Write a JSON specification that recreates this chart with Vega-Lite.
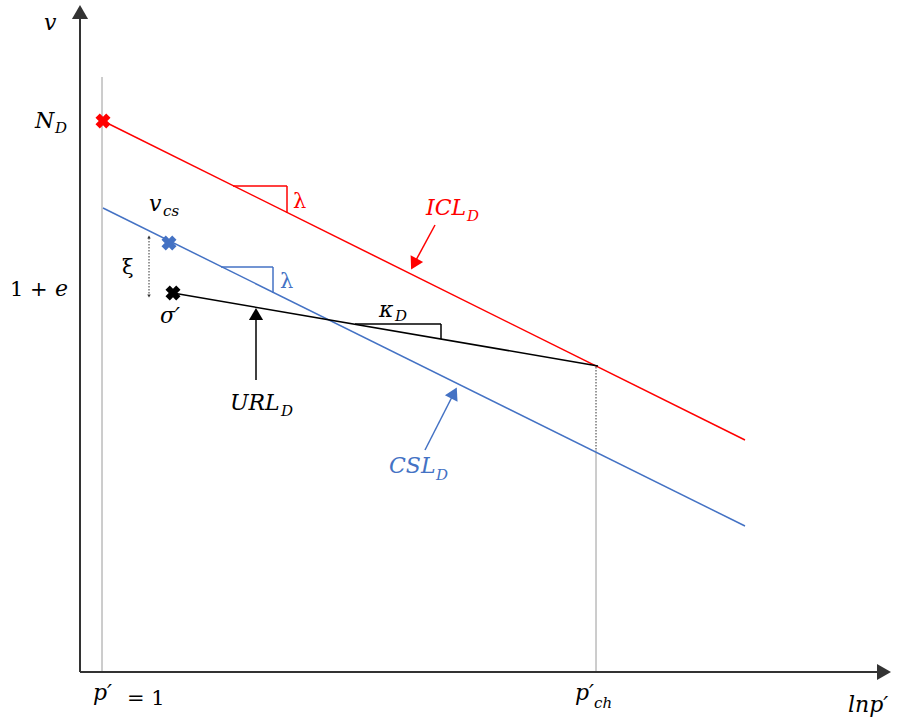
{
  "$schema": "https://vega.github.io/schema/vega-lite/v6.json",
  "width": 904,
  "height": 726,
  "padding": 0,
  "autosize": {"type": "fit", "contains": "padding"},
  "background": "white",
  "config": {"view": {"stroke": null}},
  "datasets": {
    "lines": [
      {"s": "ICL", "x": 103, "y": 121, "x2": 745, "y2": 440},
      {"s": "CSL", "x": 103, "y": 208, "x2": 745, "y2": 526},
      {"s": "URL", "x": 173, "y": 293, "x2": 598, "y2": 366},
      {"s": "ICL", "x": 233, "y": 186, "x2": 287, "y2": 186},
      {"s": "ICL", "x": 287, "y": 186, "x2": 287, "y2": 213},
      {"s": "CSL", "x": 221, "y": 267, "x2": 273, "y2": 267},
      {"s": "CSL", "x": 273, "y": 267, "x2": 273, "y2": 293},
      {"s": "URL", "x": 355, "y": 324, "x2": 441, "y2": 324},
      {"s": "URL", "x": 441, "y": 324, "x2": 441, "y2": 339},
      {"s": "ICL", "x": 435, "y": 225, "x2": 415, "y2": 262},
      {"s": "CSL", "x": 425, "y": 450, "x2": 453, "y2": 395},
      {"s": "URL", "x": 256, "y": 380, "x2": 256, "y2": 316}
    ],
    "axes": [
      {"s": "axis", "x": 80, "y": 672, "x2": 80, "y2": 16},
      {"s": "axis", "x": 80, "y": 672, "x2": 880, "y2": 672}
    ],
    "guides": [
      {"s": "guide", "x": 102, "y": 77, "x2": 102, "y2": 672},
      {"s": "guide", "x": 596, "y": 450, "x2": 596, "y2": 672}
    ],
    "dotted": [
      {"s": "axis", "x": 596, "y": 367, "x2": 596, "y2": 450},
      {"s": "axis", "x": 149, "y": 238, "x2": 149, "y2": 295}
    ],
    "heads": [
      {"s": "ICL", "x": 414, "y": 264, "a": 208},
      {"s": "CSL", "x": 454, "y": 393, "a": 27},
      {"s": "URL", "x": 256, "y": 314, "a": 0}
    ],
    "axisheads": [
      {"s": "axis", "x": 80, "y": 12, "a": 0},
      {"s": "axis", "x": 884, "y": 672, "a": 90}
    ],
    "smallheads": [
      {"s": "axis", "x": 149, "y": 237, "a": 0},
      {"s": "axis", "x": 149, "y": 296, "a": 180}
    ],
    "crosses": [
      {"s": "ICL", "x": 103, "y": 121},
      {"s": "CSL", "x": 169, "y": 243},
      {"s": "URL", "x": 173, "y": 293}
    ],
    "italic": [
      {"s": "URL", "t": "v", "x": 44, "y": 30},
      {"s": "URL", "t": "N", "x": 35, "y": 128},
      {"s": "URL", "t": "v", "x": 149, "y": 211},
      {"s": "URL", "t": "e", "x": 55, "y": 296},
      {"s": "URL", "t": "σ′", "x": 160, "y": 323},
      {"s": "URL", "t": "URL", "x": 230, "y": 410},
      {"s": "URL", "t": "κ", "x": 379, "y": 317},
      {"s": "ICL", "t": "ICL", "x": 426, "y": 215},
      {"s": "CSL", "t": "CSL", "x": 389, "y": 473},
      {"s": "URL", "t": "p′", "x": 93, "y": 700},
      {"s": "URL", "t": "p′", "x": 575, "y": 700},
      {"s": "URL", "t": "lnp′", "x": 848, "y": 712}
    ],
    "subs": [
      {"s": "URL", "t": "D", "x": 55, "y": 133},
      {"s": "URL", "t": "cs", "x": 163, "y": 216},
      {"s": "URL", "t": "D", "x": 281, "y": 416},
      {"s": "URL", "t": "D", "x": 395, "y": 321},
      {"s": "ICL", "t": "D", "x": 467, "y": 221},
      {"s": "CSL", "t": "D", "x": 436, "y": 480},
      {"s": "URL", "t": "ch", "x": 594, "y": 708}
    ],
    "upright": [
      {"s": "URL", "t": "1 +", "x": 10, "y": 296},
      {"s": "URL", "t": "= 1", "x": 127, "y": 705},
      {"s": "URL", "t": "ξ", "x": 122, "y": 274},
      {"s": "ICL", "t": "λ", "x": 293, "y": 208},
      {"s": "CSL", "t": "λ", "x": 280, "y": 288}
    ]
  },
  "encoding": {
    "x": {"field": "x", "type": "quantitative", "scale": {"domain": [0, 904], "nice": false, "zero": false}, "axis": null},
    "y": {"field": "y", "type": "quantitative", "scale": {"domain": [0, 726], "reverse": true, "nice": false, "zero": false}, "axis": null},
    "color": {"field": "s", "type": "nominal", "scale": {"domain": ["ICL", "CSL", "URL", "axis", "guide"], "range": ["#ff0000", "#4472c4", "#000000", "#333333", "#9a9a9a"]}, "legend": null}
  },
  "layer": [
    {
      "data": {"name": "guides"},
      "mark": {"type": "rule", "strokeWidth": 1},
      "encoding": {"x2": {"field": "x2"}, "y2": {"field": "y2"}}
    },
    {
      "data": {"name": "dotted"},
      "mark": {"type": "rule", "strokeWidth": 1, "strokeDash": [1.5, 1.5]},
      "encoding": {"x2": {"field": "x2"}, "y2": {"field": "y2"}}
    },
    {
      "data": {"name": "lines"},
      "mark": {"type": "rule", "strokeWidth": 1.5},
      "encoding": {"x2": {"field": "x2"}, "y2": {"field": "y2"}}
    },
    {
      "data": {"name": "axes"},
      "mark": {"type": "rule", "strokeWidth": 2},
      "encoding": {"x2": {"field": "x2"}, "y2": {"field": "y2"}}
    },
    {
      "data": {"name": "heads"},
      "mark": {"type": "point", "shape": "triangle-up", "filled": true, "size": 200, "opacity": 1},
      "encoding": {"angle": {"field": "a", "type": "quantitative", "scale": null}}
    },
    {
      "data": {"name": "axisheads"},
      "mark": {"type": "point", "shape": "triangle-up", "filled": true, "size": 260, "opacity": 1},
      "encoding": {"angle": {"field": "a", "type": "quantitative", "scale": null}}
    },
    {
      "data": {"name": "smallheads"},
      "mark": {"type": "point", "shape": "triangle-up", "filled": true, "size": 12, "opacity": 1},
      "encoding": {"angle": {"field": "a", "type": "quantitative", "scale": null}}
    },
    {
      "data": {"name": "crosses"},
      "mark": {"type": "point", "shape": "cross", "filled": true, "size": 230, "angle": 45, "opacity": 1}
    },
    {
      "data": {"name": "italic"},
      "mark": {"type": "text", "align": "left", "baseline": "alphabetic", "font": "DejaVu Serif", "fontStyle": "italic", "fontSize": 22},
      "encoding": {"text": {"field": "t"}}
    },
    {
      "data": {"name": "subs"},
      "mark": {"type": "text", "align": "left", "baseline": "alphabetic", "font": "DejaVu Serif", "fontStyle": "italic", "fontSize": 15},
      "encoding": {"text": {"field": "t"}}
    },
    {
      "data": {"name": "upright"},
      "mark": {"type": "text", "align": "left", "baseline": "alphabetic", "font": "DejaVu Serif", "fontSize": 21},
      "encoding": {"text": {"field": "t"}}
    }
  ]
}
